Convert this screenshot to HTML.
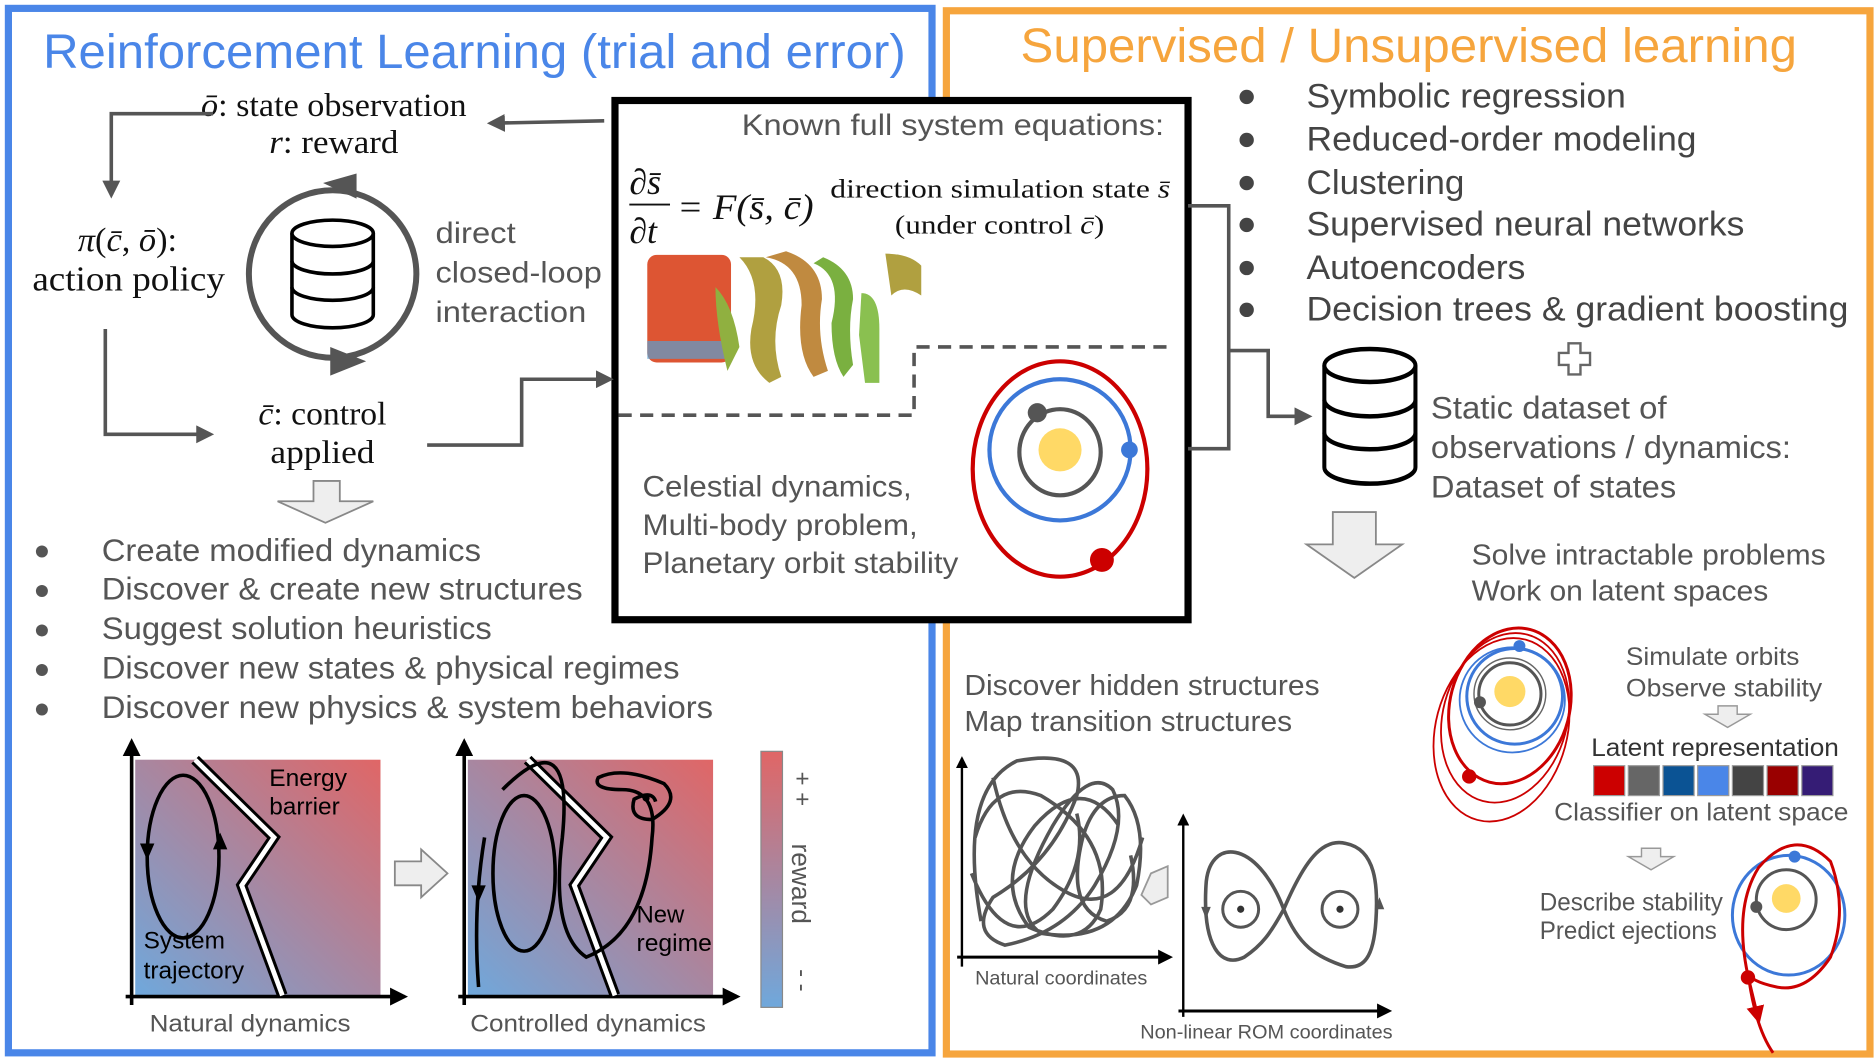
<!DOCTYPE html>
<html><head><meta charset="utf-8"><style>
html,body{margin:0;padding:0;background:#fff;width:1876px;height:1060px;overflow:hidden}
svg text{font-family:"Liberation Sans",sans-serif}
.s{font-family:"Liberation Serif",serif;fill:#111}
.g{fill:#555}
</style></head><body>
<svg width="1876" height="1060" viewBox="0 0 1568 886" xmlns="http://www.w3.org/2000/svg">
<defs>
<marker id="ah" viewBox="0 0 10 10" refX="8" refY="5" markerWidth="5" markerHeight="5" orient="auto"><path d="M0,0L10,5L0,10z" fill="#555"/></marker>
<marker id="ak" viewBox="0 0 10 10" refX="8" refY="5" markerWidth="5" markerHeight="5" orient="auto"><path d="M0,0L10,5L0,10z" fill="#000"/></marker>
<marker id="ar" viewBox="0 0 10 10" refX="8" refY="5" markerWidth="6" markerHeight="6" orient="auto"><path d="M0,0L10,5L0,10z" fill="#c00"/></marker>
<linearGradient id="bg1" x1="0" y1="1" x2="1" y2="0"><stop offset="0" stop-color="#6fa8dc"/><stop offset="1" stop-color="#e06666"/></linearGradient>
<linearGradient id="cb" x1="0" y1="0" x2="0" y2="1"><stop offset="0" stop-color="#e06666"/><stop offset="1" stop-color="#6fa8dc"/></linearGradient>
<g id="db" fill="#fff" stroke="#000" stroke-width="3">
<path d="M-34,-34 L-34,34 A34,11 0 0 0 34,34 L34,-34"/>
<path d="M-34,-11 A34,11 0 0 0 34,-11 M-34,11 A34,11 0 0 0 34,11" fill="none"/>
<ellipse cx="0" cy="-34" rx="34" ry="11"/>
</g>
</defs>
<!-- frames -->
<rect x="7" y="7" width="772" height="873" fill="none" stroke="#4a86e8" stroke-width="6"/>
<rect x="791" y="9" width="772" height="872" fill="none" stroke="#f6a53d" stroke-width="6"/>
<text x="36" y="57" font-size="40" fill="#4a86e8" textLength="721" lengthAdjust="spacingAndGlyphs">Reinforcement Learning (trial and error)</text>
<text x="853" y="52" font-size="40" fill="#f6a53d" textLength="649" lengthAdjust="spacingAndGlyphs">Supervised / Unsupervised learning</text>

<!-- central box -->
<rect x="514" y="84" width="479" height="434" fill="#fff" stroke="#000" stroke-width="6"/>
<text x="620" y="113" font-size="25" class="g" textLength="353" lengthAdjust="spacingAndGlyphs">Known full system equations:</text>
<text x="526" y="162" font-size="30" class="s" font-style="italic">∂s̄</text>
<line x1="526" y1="171" x2="560" y2="171" stroke="#111" stroke-width="1.5"/>
<text x="526" y="203" font-size="30" class="s" font-style="italic">∂t</text>
<text x="566" y="183" font-size="30" class="s" font-style="italic" textLength="114" lengthAdjust="spacingAndGlyphs">= F(s̄, c̄)</text>
<text x="694" y="165" font-size="22" class="s" textLength="284" lengthAdjust="spacingAndGlyphs">direction simulation state <tspan font-style="italic">s̄</tspan></text>
<text x="748" y="195" font-size="22" class="s" textLength="175" lengthAdjust="spacingAndGlyphs">(under control <tspan font-style="italic">c̄</tspan>)</text>
<!-- flow image approx -->
<rect x="541" y="213" width="70" height="90" rx="8" fill="#dd5533"/>
<path d="M541,285 h70 v15 h-70z" fill="#5aa0d0" opacity=".7"/>
<path d="M618,215 q20,20 10,60 q-5,30 15,45 l10,-5 q-10,-30 0,-60 q5,-30 -15,-40z" fill="#b0a040"/>
<path d="M640,215 q30,5 30,40 q-5,40 10,60 l12,-5 q-10,-30 -5,-60 q0,-30 -30,-40z" fill="#c08a40"/>
<path d="M680,220 q25,10 15,50 q0,30 10,45 l8,-10 q-5,-30 0,-55 q0,-25 -25,-35z" fill="#7ab040"/>
<path d="M720,245 q15,0 15,30 l0,45 l-12,0 l-5,-40z" fill="#8ac050"/>
<path d="M740,212 q20,0 30,10 l0,25 q-15,-10 -25,0z" fill="#b0a040"/>
<path d="M598,240 q15,15 20,50 l-10,20 q-10,-40 -10,-70z" fill="#90b040"/>
<path d="M517,347 H764 V290 H982" fill="none" stroke="#555" stroke-width="3" stroke-dasharray="11,7"/>
<!-- orbit -->
<ellipse cx="886" cy="392" rx="73" ry="90" fill="none" stroke="#c00" stroke-width="3.5"/>
<circle cx="886" cy="376" r="59" fill="none" stroke="#3c78d8" stroke-width="3.5"/>
<ellipse cx="886" cy="378" rx="34" ry="36" fill="none" stroke="#555" stroke-width="3.5"/>
<circle cx="886" cy="376" r="18" fill="#ffd966"/>
<circle cx="867" cy="345" r="8" fill="#555"/>
<circle cx="944" cy="376" r="7" fill="#3c78d8"/>
<circle cx="921" cy="468" r="10" fill="#c00"/>
<text x="537" y="415" font-size="25" class="g" textLength="225" lengthAdjust="spacingAndGlyphs">Celestial dynamics,</text>
<text x="537" y="447" font-size="25" class="g" textLength="230" lengthAdjust="spacingAndGlyphs">Multi-body problem,</text>
<text x="537" y="479" font-size="25" class="g" textLength="264" lengthAdjust="spacingAndGlyphs">Planetary orbit stability</text>

<!-- left loop -->
<text x="168" y="97" font-size="27" class="s" textLength="222" lengthAdjust="spacingAndGlyphs"><tspan font-style="italic">ō</tspan>: state observation</text>
<text x="225" y="128" font-size="27" class="s" textLength="108" lengthAdjust="spacingAndGlyphs"><tspan font-style="italic">r</tspan>: reward</text>
<line x1="505" y1="101" x2="410" y2="103" stroke="#555" stroke-width="3" marker-end="url(#ah)"/>
<path d="M178,95 H93 V163" fill="none" stroke="#555" stroke-width="3" marker-end="url(#ah)"/>
<text x="65" y="210" font-size="28" class="s" textLength="83" lengthAdjust="spacingAndGlyphs"><tspan font-style="italic">π</tspan>(<tspan font-style="italic">c̄</tspan>, <tspan font-style="italic">ō</tspan>):</text>
<text x="27" y="243" font-size="29" class="s" textLength="161" lengthAdjust="spacingAndGlyphs">action policy</text>
<circle cx="278" cy="229" r="70" fill="none" stroke="#555" stroke-width="5"/>
<path d="M298,145 L270,153 L298,166z" fill="#555"/>
<path d="M276,290 L306,302 L276,314z" fill="#555"/>
<use href="#db" transform="translate(278,229)"/>
<text x="364" y="203" font-size="25" class="g" textLength="67" lengthAdjust="spacingAndGlyphs">direct</text>
<text x="364" y="236" font-size="25" class="g" textLength="139" lengthAdjust="spacingAndGlyphs">closed-loop</text>
<text x="364" y="269" font-size="25" class="g" textLength="126" lengthAdjust="spacingAndGlyphs">interaction</text>
<path d="M88,275 V363 H176" fill="none" stroke="#555" stroke-width="3" marker-end="url(#ah)"/>
<text x="216" y="355" font-size="27" class="s" textLength="107" lengthAdjust="spacingAndGlyphs"><tspan font-style="italic">c̄</tspan>: control</text>
<text x="226" y="387" font-size="27" class="s" textLength="87" lengthAdjust="spacingAndGlyphs">applied</text>
<path d="M357,372 H436 V317 H510" fill="none" stroke="#555" stroke-width="3" marker-end="url(#ah)"/>
<path d="M262,402 h22 v17 h28 l-40,18 l-40,-18 h30z" fill="#eee" stroke="#888" stroke-width="1.5"/>
<g font-size="26" class="g">
<circle cx="35" cy="461" r="5" fill="#555"/><text x="85" y="469" textLength="317" lengthAdjust="spacingAndGlyphs">Create modified dynamics</text>
<circle cx="35" cy="494" r="5" fill="#555"/><text x="85" y="501" textLength="402" lengthAdjust="spacingAndGlyphs">Discover &amp; create new structures</text>
<circle cx="35" cy="527" r="5" fill="#555"/><text x="85" y="534" textLength="326" lengthAdjust="spacingAndGlyphs">Suggest solution heuristics</text>
<circle cx="35" cy="560" r="5" fill="#555"/><text x="85" y="567" textLength="483" lengthAdjust="spacingAndGlyphs">Discover new states &amp; physical regimes</text>
<circle cx="35" cy="593" r="5" fill="#555"/><text x="85" y="600" textLength="511" lengthAdjust="spacingAndGlyphs">Discover new physics &amp; system behaviors</text>
</g>
<!-- natural dynamics plot -->
<rect x="113" y="635" width="205" height="197" fill="url(#bg1)"/>
<line x1="110" y1="840" x2="110" y2="620" stroke="#000" stroke-width="3" marker-end="url(#ak)"/>
<line x1="105" y1="833" x2="338" y2="833" stroke="#000" stroke-width="3" marker-end="url(#ak)"/>
<ellipse cx="153" cy="716" rx="30" ry="68" fill="none" stroke="#000" stroke-width="3"/>
<path d="M117,705 l6,14 l6,-14z M178,710 l6,-14 l6,14z" fill="#000"/>
<path d="M163,635 L229,700 L202,740 L236,832" fill="none" stroke="#000" stroke-width="9"/>
<path d="M163,635 L229,700 L202,740 L236,832" fill="none" stroke="#fff" stroke-width="4"/>
<text x="225" y="657" font-size="20" fill="#000" textLength="65" lengthAdjust="spacingAndGlyphs">Energy</text>
<text x="225" y="681" font-size="20" fill="#000" textLength="59" lengthAdjust="spacingAndGlyphs">barrier</text>
<text x="120" y="793" font-size="20" fill="#000" textLength="68" lengthAdjust="spacingAndGlyphs">System</text>
<text x="120" y="818" font-size="20" fill="#000" textLength="84" lengthAdjust="spacingAndGlyphs">trajectory</text>
<text x="125" y="862" font-size="20" class="g" textLength="168" lengthAdjust="spacingAndGlyphs">Natural dynamics</text>
<path d="M330,720 h22 v-10 l22,20 l-22,20 v-10 h-22z" fill="#eee" stroke="#888" stroke-width="1.5"/>
<!-- controlled plot -->
<rect x="391" y="635" width="205" height="197" fill="url(#bg1)"/>
<line x1="388" y1="840" x2="388" y2="620" stroke="#000" stroke-width="3" marker-end="url(#ak)"/>
<line x1="383" y1="833" x2="616" y2="833" stroke="#000" stroke-width="3" marker-end="url(#ak)"/>
<ellipse cx="438" cy="730" rx="26" ry="65" fill="none" stroke="#000" stroke-width="3"/>
<path d="M441,635 L507,700 L480,740 L514,832" fill="none" stroke="#000" stroke-width="9"/>
<path d="M441,635 L507,700 L480,740 L514,832" fill="none" stroke="#fff" stroke-width="4"/>
<path d="M400,825 Q395,760 405,700 M420,660 Q480,600 470,700 Q460,780 490,800 Q540,780 545,700 Q550,660 520,660 Q495,660 500,650 Q520,640 555,655 Q570,670 545,685 Q525,685 530,668 Q545,660 548,670" fill="none" stroke="#000" stroke-width="3"/>
<circle cx="540" cy="667" r="3" fill="#000"/>
<path d="M394,740 l6,14 l6,-14z" fill="#000"/>
<text x="532" y="771" font-size="20" fill="#000">New</text>
<text x="532" y="795" font-size="20" fill="#000" textLength="63" lengthAdjust="spacingAndGlyphs">regime</text>
<text x="393" y="862" font-size="20" class="g" textLength="197" lengthAdjust="spacingAndGlyphs">Controlled dynamics</text>
<rect x="636" y="628" width="18" height="214" fill="url(#cb)" stroke="#888" stroke-width="1"/>
<text x="664" y="645" font-size="20" class="g" transform="rotate(90 664 645)">+ +</text>
<text x="662" y="705" font-size="22" class="g" transform="rotate(90 662 705)">reward</text>
<text x="664" y="810" font-size="20" class="g" transform="rotate(90 664 810)">- -</text>

<!-- right side -->
<g font-size="29" fill="#444">
<circle cx="1042" cy="81" r="6" fill="#444"/><text x="1092" y="90" textLength="267" lengthAdjust="spacingAndGlyphs">Symbolic regression</text>
<circle cx="1042" cy="117" r="6" fill="#444"/><text x="1092" y="126" textLength="326" lengthAdjust="spacingAndGlyphs">Reduced-order modeling</text>
<circle cx="1042" cy="153" r="6" fill="#444"/><text x="1092" y="162" textLength="132" lengthAdjust="spacingAndGlyphs">Clustering</text>
<circle cx="1042" cy="188" r="6" fill="#444"/><text x="1092" y="197" textLength="366" lengthAdjust="spacingAndGlyphs">Supervised neural networks</text>
<circle cx="1042" cy="224" r="6" fill="#444"/><text x="1092" y="233" textLength="183" lengthAdjust="spacingAndGlyphs">Autoencoders</text>
<circle cx="1042" cy="259" r="6" fill="#444"/><text x="1092" y="268" textLength="453" lengthAdjust="spacingAndGlyphs">Decision trees &amp; gradient boosting</text>
</g>
<path d="M993,172 H1027 V375 H993" fill="none" stroke="#555" stroke-width="3"/>
<path d="M1027,293 H1060 V348 H1094" fill="none" stroke="#555" stroke-width="3" marker-end="url(#ah)"/>
<path d="M1311,287 h10 v8 h8 v10 h-8 v8 h-10 v-8 h-8 v-10 h8z" fill="#fff" stroke="#666" stroke-width="2"/>
<use href="#db" transform="translate(1145,348) scale(1.12,1.25)"/>
<text x="1196" y="350" font-size="26" class="g" textLength="197" lengthAdjust="spacingAndGlyphs">Static dataset of</text>
<text x="1196" y="383" font-size="26" class="g" textLength="301" lengthAdjust="spacingAndGlyphs">observations / dynamics:</text>
<text x="1196" y="416" font-size="26" class="g" textLength="205" lengthAdjust="spacingAndGlyphs">Dataset of states</text>
<path d="M1114,428 h36 v27 h22 l-40,28 l-40,-28 h22z" fill="#eee" stroke="#888" stroke-width="1.5"/>
<text x="1230" y="472" font-size="24" class="g" textLength="296" lengthAdjust="spacingAndGlyphs">Solve intractable problems</text>
<text x="1230" y="502" font-size="24" class="g" textLength="248" lengthAdjust="spacingAndGlyphs">Work on latent spaces</text>
<text x="806" y="581" font-size="24" class="g" textLength="297" lengthAdjust="spacingAndGlyphs">Discover hidden structures</text>
<text x="806" y="611" font-size="24" class="g" textLength="274" lengthAdjust="spacingAndGlyphs">Map transition structures</text>
<!-- scribble plot -->
<line x1="804" y1="808" x2="804" y2="634" stroke="#000" stroke-width="2" marker-end="url(#ak)"/>
<line x1="800" y1="800" x2="978" y2="800" stroke="#000" stroke-width="2.5" marker-end="url(#ak)"/>
<path d="M820,770 Q800,660 850,636 Q910,625 900,665 Q880,720 830,750 Q810,780 840,790 Q890,780 915,740 Q945,690 930,660 Q910,640 880,690 Q840,760 870,780 Q930,790 950,740 Q960,690 940,665 Q915,665 905,700 Q890,760 925,770 Q955,760 945,715 M815,700 Q830,650 870,665 Q930,700 920,760 Q905,795 860,775 Q830,735 865,690 Q905,645 935,690 M830,650 Q845,720 890,745 Q935,770 955,700 M812,730 Q840,800 880,760 Q910,720 900,680" fill="none" stroke="#555" stroke-width="3"/>
<text x="815" y="823" font-size="16" class="g" textLength="144" lengthAdjust="spacingAndGlyphs">Natural coordinates</text>
<path d="M962,730 l14,-6 v26 l-14,6 l-8,-8z" fill="#eee" stroke="#999" stroke-width="1.5"/>
<!-- ROM -->
<line x1="989" y1="850" x2="989" y2="682" stroke="#000" stroke-width="2" marker-end="url(#ak)"/>
<line x1="985" y1="845" x2="1161" y2="845" stroke="#000" stroke-width="2.5" marker-end="url(#ak)"/>
<path d="M1073,760 C1050,700 1010,700 1008,740 C1005,790 1020,810 1040,800 C1055,790 1062,780 1073,760 C1090,720 1105,700 1125,705 C1150,710 1152,740 1150,770 C1148,800 1140,810 1125,808 C1100,800 1085,790 1073,760z" fill="none" stroke="#555" stroke-width="3"/>
<circle cx="1037" cy="760" r="15" fill="none" stroke="#555" stroke-width="2.5"/>
<circle cx="1120" cy="760" r="15" fill="none" stroke="#555" stroke-width="2.5"/>
<circle cx="1037" cy="760" r="3" fill="#333"/><circle cx="1120" cy="760" r="3" fill="#333"/>
<path d="M1004,758 l4,10 l4,-10z M1149,760 l4,-10 l4,10z" fill="#555"/>
<text x="953" y="868" font-size="16" class="g" textLength="211" lengthAdjust="spacingAndGlyphs">Non-linear ROM coordinates</text>
<!-- top orbits right -->
<g fill="none">
<ellipse cx="1255" cy="610" rx="55" ry="78" transform="rotate(15 1255 610)" stroke="#c00" stroke-width="1.5"/>
<ellipse cx="1258" cy="600" rx="52" ry="72" transform="rotate(15 1258 600)" stroke="#c00" stroke-width="1.5"/>
<ellipse cx="1262" cy="590" rx="50" ry="66" transform="rotate(15 1262 590)" stroke="#c00" stroke-width="2.5"/>
<circle cx="1264" cy="585" r="44" stroke="#3c78d8" stroke-width="1.5"/>
<circle cx="1266" cy="582" r="40" stroke="#3c78d8" stroke-width="2.5"/>
<circle cx="1262" cy="580" r="30" stroke="#666" stroke-width="1.2"/>
<circle cx="1262" cy="580" r="26" stroke="#555" stroke-width="2.5"/>
</g>
<circle cx="1262" cy="578" r="13" fill="#ffd966"/>
<circle cx="1237" cy="587" r="5" fill="#555"/>
<circle cx="1270" cy="540" r="5" fill="#3c78d8"/>
<circle cx="1228" cy="649" r="6" fill="#c00"/>
<text x="1359" y="556" font-size="21" class="g" textLength="145" lengthAdjust="spacingAndGlyphs">Simulate orbits</text>
<text x="1359" y="582" font-size="21" class="g" textLength="164" lengthAdjust="spacingAndGlyphs">Observe stability</text>
<path d="M1436,590 h16 v7 h11 l-19,11 l-19,-11 h11z" fill="#eee" stroke="#999" stroke-width="1.2"/>
<text x="1330" y="632" font-size="21" fill="#333" textLength="207" lengthAdjust="spacingAndGlyphs">Latent representation</text>
<g stroke="#999" stroke-width="1">
<rect x="1332" y="640" width="26" height="25" fill="#cc0000"/>
<rect x="1361" y="640" width="26" height="25" fill="#666"/>
<rect x="1390" y="640" width="26" height="25" fill="#0b5394"/>
<rect x="1419" y="640" width="26" height="25" fill="#4a86e8"/>
<rect x="1448" y="640" width="26" height="25" fill="#444"/>
<rect x="1477" y="640" width="26" height="25" fill="#990000"/>
<rect x="1506" y="640" width="26" height="25" fill="#351c75"/>
</g>
<text x="1299" y="686" font-size="21" class="g" textLength="246" lengthAdjust="spacingAndGlyphs">Classifier on latent space</text>
<path d="M1372,709 h16 v7 h11 l-19,11 l-19,-11 h11z" fill="#eee" stroke="#999" stroke-width="1.2"/>
<text x="1287" y="761" font-size="21" class="g" textLength="153" lengthAdjust="spacingAndGlyphs">Describe stability</text>
<text x="1287" y="785" font-size="21" class="g" textLength="148" lengthAdjust="spacingAndGlyphs">Predict ejections</text>
<!-- bottom orbit right -->
<ellipse cx="1495" cy="765" rx="47" ry="50" fill="none" stroke="#3c78d8" stroke-width="2.5"/>
<circle cx="1493" cy="752" r="25" fill="none" stroke="#555" stroke-width="2.5"/>
<circle cx="1493" cy="751" r="12" fill="#ffd966"/>
<circle cx="1468" cy="758" r="5" fill="#555"/>
<circle cx="1500" cy="716" r="5" fill="#3c78d8"/>
<path d="M1482,880 Q1468,860 1462,820 Q1448,760 1470,725 Q1500,690 1530,720 Q1545,760 1530,800 Q1510,830 1485,825 Q1462,820 1460,812" fill="none" stroke="#c00" stroke-width="2.5"/>
<path d="M1462,820 L1470,853" fill="none" stroke="#c00" stroke-width="2.5" marker-end="url(#ar)"/>
<circle cx="1461" cy="817" r="6" fill="#c00"/>
</svg>
</body></html>
